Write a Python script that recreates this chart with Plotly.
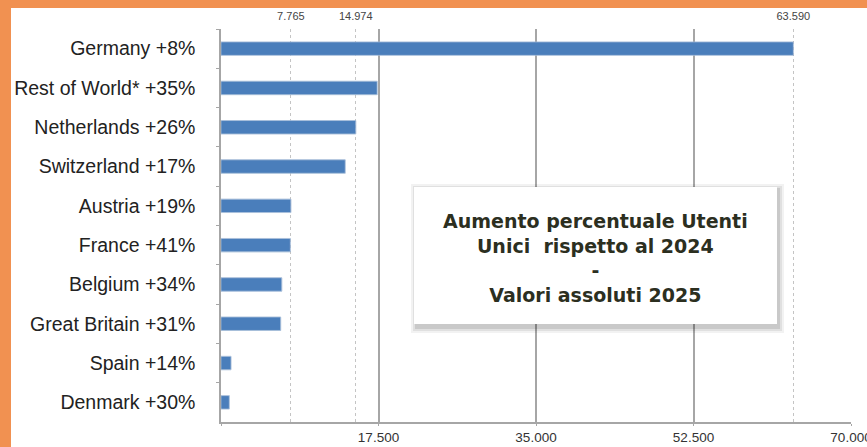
import plotly.graph_objects as go

countries = ["Germany", "Rest of World*", "Netherlands", "Switzerland", "Austria",
             "France", "Belgium", "Great Britain", "Spain", "Denmark"]
growth = ["+8%", "+35%", "+26%", "+17%", "+19%", "+41%", "+34%", "+31%", "+14%", "+30%"]
users_2025 = [63590, 17350, 14974, 13800, 7765, 7700, 6750, 6630, 1110, 920]
highlight_values = [7765, 14974, 63590]
highlight_labels = ["7.765", "14.974", "63.590"]
x_ticks = [0, 17500, 35000, 52500, 70000]
x_tick_labels = ["", "17.500", "35.000", "52.500", "70.000"]
box_lines = ["Aumento percentuale Utenti", "Unici  rispetto al 2024", "-", "Valori assoluti 2025"]

labels = [f"{c} {g}" for c, g in zip(countries, growth)]

W, H = 867, 447
ML, MR, MT, MB = 221, 16, 29, 25
PW, PH = W - ML - MR, H - MT - MB

def px_x(p):
    return (p - ML) / PW

def px_y(p):
    return (H - MB - p) / PH

fig = go.Figure()
fig.add_trace(go.Bar(
    x=users_2025, y=labels, orientation="h",
    marker=dict(color="#4a7ebb", line=dict(color="#3d6ca6", width=0.5)),
    hoverinfo="x+y", showlegend=False,
))
fig.add_trace(go.Bar(
    x=users_2025, y=labels, orientation="h", xaxis="x2",
    marker=dict(color="rgba(0,0,0,0)"), hoverinfo="skip", showlegend=False,
))

# decorative orange frame
orange = "#f19151"
fig.add_shape(type="rect", xref="paper", yref="paper", layer="above",
              x0=px_x(0), x1=px_x(11), y0=px_y(H), y1=px_y(0),
              fillcolor=orange, line=dict(width=0))
fig.add_shape(type="rect", xref="paper", yref="paper", layer="above",
              x0=px_x(0), x1=px_x(W), y0=px_y(8), y1=px_y(0),
              fillcolor=orange, line=dict(width=0))

# text box with soft shadow
bx0, bx1, by0, by1 = 414, 777, 187, 324
for i, a in enumerate([0.05, 0.07, 0.10]):
    d = 6 - 2 * i
    fig.add_shape(type="rect", xref="paper", yref="paper", layer="above",
                  x0=px_x(bx0 - d + 3), x1=px_x(bx1 + d + 1),
                  y0=px_y(by1 + d + 3), y1=px_y(by0 - d + 3),
                  fillcolor=f"rgba(0,0,0,{a})", line=dict(width=0))
fig.add_shape(type="rect", xref="paper", yref="paper", layer="above",
              x0=px_x(bx0), x1=px_x(bx1), y0=px_y(by1), y1=px_y(by0),
              fillcolor="white", line=dict(width=0))
fig.add_annotation(
    xref="paper", yref="paper", x=px_x((bx0 + bx1) / 2), y=px_y((by0 + by1) / 2 + 2),
    text="<br>".join(f"<b>{t}</b>" for t in box_lines), showarrow=False,
    font=dict(family="DejaVu Sans", size=19, color="#2c2f1f"), align="center",
)

fig.update_layout(
    width=W, height=H,
    margin=dict(l=ML, r=MR, t=MT, b=MB, autoexpand=False),
    paper_bgcolor="white", plot_bgcolor="white",
    separators=",.",
    bargap=0.66,
    xaxis=dict(range=[0, 70000], tickvals=x_ticks, ticktext=x_tick_labels,
               showgrid=True, gridcolor="#a6a6a6", gridwidth=1.5,
               showline=True, linecolor="#a6a6a6", linewidth=1.5,
               ticks="outside", ticklen=2, tickcolor="#a6a6a6",
               ticklabeloverflow="allow", automargin=False,
               tickfont=dict(family="Liberation Sans", size=13.5, color="#333333"),
               zeroline=False, fixedrange=True),
    xaxis2=dict(range=[0, 70000], overlaying="x", side="top", anchor="y",
                tickvals=highlight_values, ticktext=highlight_labels,
                showgrid=True, gridcolor="#c4c4c4", gridwidth=1, griddash="dot",
                showline=False, ticks="", ticklabelstandoff=6, automargin=False,
                tickfont=dict(family="Liberation Sans", size=11, color="#444444"),
                zeroline=False),
    yaxis=dict(autorange="reversed", showline=True, linecolor="#a6a6a6", linewidth=1.5,
               ticks="outside", ticklen=3, tickcolor="#a6a6a6", tickson="boundaries",
               ticklabelstandoff=20, automargin=False,
               tickfont=dict(family="Liberation Sans", size=19.5, color="#222222"),
               showgrid=False),
)

fig.write_html("out.html", config={"displayModeBar": False},
               post_script="document.body.style.margin='0';")
